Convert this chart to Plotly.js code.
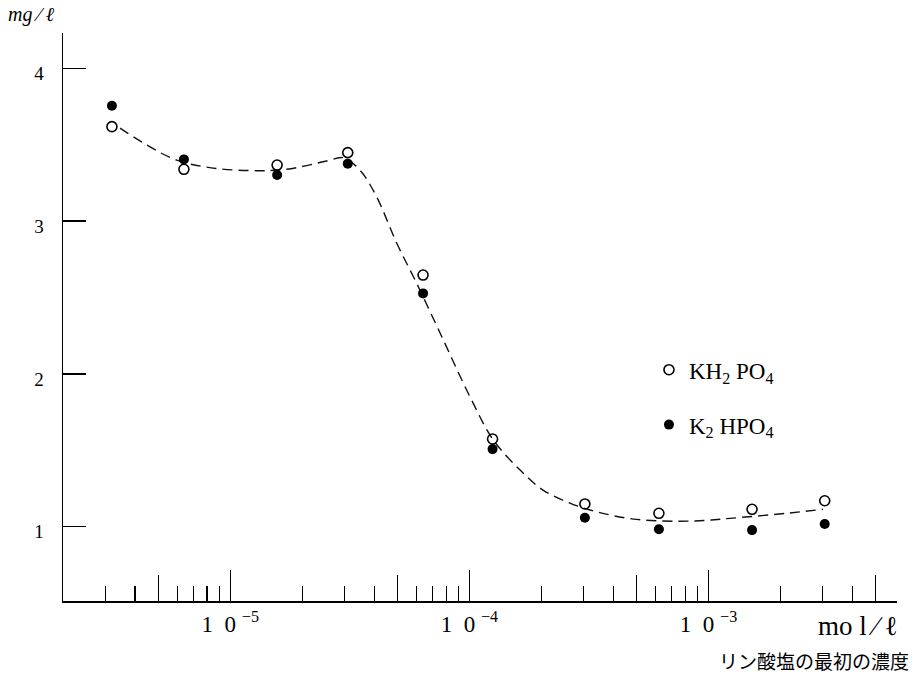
<!DOCTYPE html>
<html>
<head>
<meta charset="utf-8">
<script src="https://cdn.plot.ly/plotly-3.0.1.min.js"></script>
<style>
  html, body { margin: 0; padding: 0; background: #fff; }
  #chart { width: 917px; height: 677px; }
</style>
</head>
<body>
<div id="chart"></div>
<script>
// Initial phosphate concentration (mol/l)
const concentration = [3.2e-6, 6.4e-6, 1.57e-5, 3.1e-5, 6.4e-5, 1.25e-4, 3.04e-4, 6.2e-4, 1.52e-3, 3.06e-3];

// Measured values (mg/l)
const kh2po4 = [3.618, 3.339, 3.367, 3.448, 2.647, 1.574, 1.149, 1.088, 1.114, 1.170];
const k2hpo4 = [3.755, 3.404, 3.302, 3.376, 2.527, 1.508, 1.059, 0.983, 0.978, 1.018];

// Hand-fitted trend curve through both series
const curveX = [3.46e-6, 4.48e-6, 5.97e-6, 8.47e-6, 1.29e-5, 1.72e-5, 2.53e-5, 2.96e-5, 3.48e-5,
                4.09e-5, 4.97e-5, 6.01e-5, 7.78e-5, 1.005e-4, 1.26e-4, 1.63e-4, 2.03e-4, 2.63e-4,
                3.40e-4, 5.00e-4, 8.59e-4, 1.23e-3, 2.12e-3, 3.01e-3];
const curveY = [3.609, 3.498, 3.399, 3.347, 3.330, 3.339, 3.393, 3.415, 3.335,
                3.160, 2.855, 2.595, 2.222, 1.851, 1.567, 1.371, 1.240, 1.155,
                1.098, 1.048, 1.037, 1.055, 1.088, 1.114];

// Axis ticks
const decadeTicks = [1e-5, 1e-4, 1e-3];
const decadeLabels = ['1  0 <sup>−5</sup>', '1  0 <sup>−4</sup>', '1  0 <sup>−3</sup>'];
const halfTicks = [5e-6, 5e-5, 5e-4, 5e-3];
const smallTicks = [3e-6, 4e-6, 6e-6, 7e-6, 8e-6, 9e-6,
                    2e-5, 3e-5, 4e-5, 6e-5, 7e-5, 8e-5, 9e-5,
                    2e-4, 3e-4, 4e-4, 6e-4, 7e-4, 8e-4, 9e-4,
                    2e-3, 3e-3, 4e-3];
const yTicks = [1, 2, 3, 4];

const serif = 'Liberation Serif, DejaVu Serif, serif';
const xRange = [-5.6994, -2.212];

const traces = [
  {
    x: curveX, y: curveY, type: 'scatter', mode: 'lines',
    line: { color: '#111', width: 1.4, dash: '10px,6px', shape: 'spline', smoothing: 1 },
    showlegend: false, hoverinfo: 'skip'
  },
  {
    x: concentration, y: k2hpo4, type: 'scatter', mode: 'markers',
    name: 'K<sub>2</sub> HPO<sub>4</sub>', legendgroup: 'b', legendrank: 2,
    marker: { symbol: 'circle', size: 10, color: '#000' }
  },
  {
    x: concentration, y: kh2po4, type: 'scatter', mode: 'markers',
    name: 'KH<sub>2</sub> PO<sub>4</sub>', legendgroup: 'a', legendrank: 1,
    marker: { symbol: 'circle-open', size: 10, color: '#000', line: { width: 1.6, color: '#000' } }
  },
  {
    // carrier for the fine tick axis
    x: curveX, y: curveY, xaxis: 'x2', type: 'scatter', mode: 'lines',
    line: { width: 0 }, opacity: 0, showlegend: false, hoverinfo: 'skip'
  }
];

const layout = {
  width: 917, height: 677,
  margin: { l: 63, r: 20, t: 33, b: 76 },
  paper_bgcolor: '#fff', plot_bgcolor: '#fff',
  font: { family: serif, color: '#000', size: 18 },
  showlegend: true,
  legend: {
    x: 0.7026, y: 0.445, xanchor: 'left', yanchor: 'top',
    traceorder: 'grouped', tracegroupgap: 22,
    font: { family: serif, size: 23, color: '#000' },
    bgcolor: 'rgba(0,0,0,0)'
  },
  xaxis: {
    type: 'log', range: xRange,
    showline: true, linecolor: '#000', linewidth: 1.5,
    showgrid: false, zeroline: false,
    tickmode: 'array', tickvals: decadeTicks, ticktext: decadeLabels,
    ticks: 'inside', ticklen: 31, tickwidth: 1.4, tickcolor: '#000',
    tickfont: { family: serif, size: 23 },
    ticklabelstandoff: 2,
    minor: { tickmode: 'array', tickvals: halfTicks, ticks: 'inside', ticklen: 26, tickwidth: 1.3, tickcolor: '#000', showgrid: false }
  },
  xaxis2: {
    type: 'log', range: xRange, overlaying: 'x', anchor: 'y',
    showline: false, showgrid: false, zeroline: false, showticklabels: false,
    tickmode: 'array', tickvals: smallTicks,
    ticks: 'inside', ticklen: 15, tickwidth: 1.2, tickcolor: '#000'
  },
  yaxis: {
    range: [0.514, 4.231],
    showline: true, linecolor: '#000', linewidth: 1.5,
    showgrid: false, zeroline: false,
    tickmode: 'array', tickvals: yTicks,
    ticks: 'inside', ticklen: 23, tickwidth: 1.3, tickcolor: '#000',
    tickfont: { family: serif, size: 19 },
    ticklabelstandoff: 14, ticklabelshift: 5
  },
  annotations: [
    {
      text: '<i>mg ∕ ℓ</i>', xref: 'paper', yref: 'paper',
      x: -0.0683, y: 1.0317, xanchor: 'left', yanchor: 'middle',
      showarrow: false, font: { family: serif, size: 20 }
    },
    {
      text: 'mo l ∕ ℓ', xref: 'paper', yref: 'paper',
      x: 0.9029, y: -0.044, xanchor: 'left', yanchor: 'middle',
      showarrow: false, font: { family: serif, size: 27 }
    },
    {
      text: 'リン酸塩の最初の濃度', xref: 'paper', yref: 'paper',
      x: 0.784, y: -0.1039, xanchor: 'left', yanchor: 'middle',
      showarrow: false, font: { family: 'Noto Sans CJK JP, sans-serif', size: 19 }
    }
  ]
};

Plotly.newPlot('chart', traces, layout, { displayModeBar: false, staticPlot: true });
</script>
</body>
</html>
